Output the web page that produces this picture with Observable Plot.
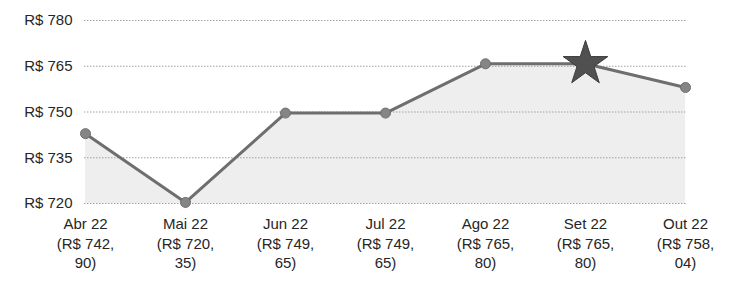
<!DOCTYPE html>
<html>
<head>
<meta charset="utf-8">
<script src="https://cdn.jsdelivr.net/npm/d3@7"></script>
<script src="https://cdn.jsdelivr.net/npm/@observablehq/plot@0.6"></script>
<style>
  html, body { margin: 0; padding: 0; background: #fff; }
  #chart { width: 733px; height: 281px; overflow: hidden; }
  svg { font-family: "Liberation Sans", Arial, sans-serif; }
</style>
</head>
<body>
<div id="chart"></div>
<script>
const months = ["Abr 22", "Mai 22", "Jun 22", "Jul 22", "Ago 22", "Set 22", "Out 22"];
const prices = [742.90, 720.35, 749.65, 749.65, 765.80, 765.80, 758.04];
const priceLabels = ["(R$ 742,\n90)", "(R$ 720,\n35)", "(R$ 749,\n65)", "(R$ 749,\n65)", "(R$ 765,\n80)", "(R$ 765,\n80)", "(R$ 758,\n04)"];
const yTicks = [720, 735, 750, 765, 780];
const highlightMonth = "Set 22";

const data = months.map((m, i) => ({month: m, price: prices[i], label: priceLabels[i]}));
const labelOf = new Map(data.map(d => [d.month, d.label]));
const baseline = yTicks[0];

const chart = Plot.plot({
  width: 733,
  height: 281,
  marginLeft: 84,
  marginRight: 47,
  marginTop: 20,
  marginBottom: 78,
  style: {fontSize: "15px", color: "#262626", fontFamily: "'Liberation Sans', Arial, sans-serif"},
  x: {type: "point", domain: months, padding: 0, label: null},
  y: {domain: [yTicks[0], yTicks[yTicks.length - 1]], label: null},
  marks: [
    Plot.areaY(data, {x: "month", y1: baseline, y2: "price", fill: "#eeeeee"}),
    Plot.ruleY(yTicks, {stroke: "#a0a0a0", strokeWidth: 1, strokeDasharray: "1.5,1.5"}),
    Plot.line(data, {x: "month", y: "price", stroke: "#6e6e6e", strokeWidth: 3}),
    Plot.dot(data.filter(d => d.month !== highlightMonth), {x: "month", y: "price", r: 5, fill: "#858585", stroke: "#6e6e6e", strokeWidth: 1}),
    Plot.dot(data.filter(d => d.month === highlightMonth), {x: "month", y: "price", r: 14, symbol: "star", fill: "#505050", stroke: "#3c3c3c", strokeWidth: 1}),
    Plot.axisY({ticks: yTicks, tickSize: 0, tickPadding: 12, tickFormat: d => `R$ ${d}`, fontSize: 15, label: null}),
    Plot.axisX({tickSize: 0, tickPadding: 12, tickFormat: m => `${m}\n${labelOf.get(m)}`, lineHeight: 1.3, fontSize: 15, label: null})
  ]
});
document.getElementById("chart").appendChild(chart);
</script>
</body>
</html>
